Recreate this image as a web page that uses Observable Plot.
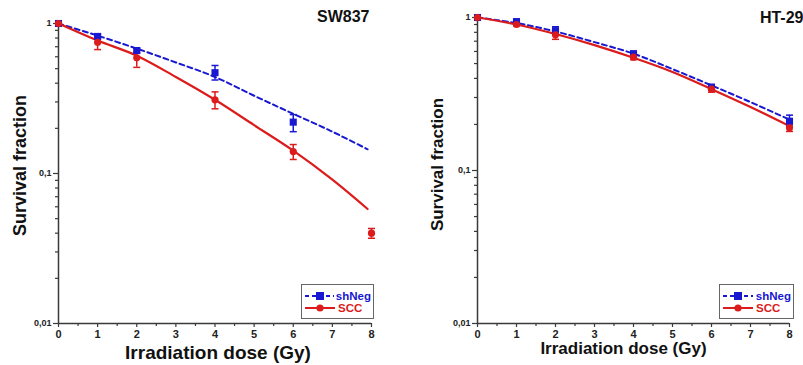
<!DOCTYPE html>
<html><head><meta charset="utf-8">
<script src="https://cdn.jsdelivr.net/npm/d3@7"></script>
<script src="https://cdn.jsdelivr.net/npm/@observablehq/plot@0.6"></script>
<style>
body{margin:0;background:#fff;font-family:"Liberation Sans",Arial,sans-serif;}
#wrap{position:relative;width:803px;height:365px;overflow:hidden;}
.panel{position:absolute;top:0;}
.legend{position:absolute;box-sizing:border-box;border:1.5px solid #666;background:#fff;font-weight:bold;font-size:11.5px;line-height:12px;padding:5px 2px 3px 2px;}
.legend div{display:flex;align-items:center;height:12px;}
.legend span{display:block;line-height:12px;}
.legend svg{margin-right:2px;}
</style></head><body>
<div id="wrap"></div>
<script>
// ---- data ----
const seriesNames = ["shNeg", "SCC"];
const colors = {shNeg: "#1818d0", SCC: "#dc1c1c"};
const yMajor = [1, 0.1, 0.01];
const yMinor = [0.02,0.03,0.04,0.05,0.06,0.07,0.08,0.09,0.2,0.3,0.4,0.5,0.6,0.7,0.8,0.9];
const xMajor = [0,1,2,3,4,5,6,7,8];
const xMinor = [0.5,1.5,2.5,3.5,4.5,5.5,6.5,7.5];

// SW837
const swShNegDose = [0,1,2,4,6];
const swShNegVal  = [1,0.82,0.66,0.47,0.22];
const swShNegLo   = [1,0.79,0.635,0.42,0.19];
const swShNegHi   = [1,0.85,0.685,0.525,0.247];
const swSccDose = [0,1,2,4,6,8];
const swSccVal  = [1,0.75,0.59,0.31,0.14,0.04];
const swSccLo   = [1,0.67,0.51,0.27,0.124,0.037];
const swSccHi   = [1,0.81,0.645,0.35,0.156,0.043];
const swFitDose = [0,1,2,3,4,5,6,7,7.9];
const swFitShNeg = [1,0.83,0.68,0.55,0.44,0.33,0.25,0.19,0.145];
const swFitScc   = [1,0.77,0.61,0.44,0.31,0.21,0.142,0.091,0.058];

// HT-29
const htDose = [0,1,2,4,6,8];
const htShNegVal = [1,0.94,0.82,0.58,0.35,0.21];
const htShNegLo  = [1,0.91,0.77,0.56,0.335,0.195];
const htShNegHi  = [1,0.97,0.87,0.60,0.365,0.23];
const htSccVal = [1,0.90,0.77,0.55,0.34,0.19];
const htSccLo  = [1,0.88,0.72,0.53,0.325,0.18];
const htSccHi  = [1,0.92,0.82,0.57,0.355,0.20];
const htFitDose = [0,1,2,3,4,5,6,7,8];
const htFitShNeg = [1,0.92,0.81,0.69,0.58,0.46,0.36,0.28,0.215];
const htFitScc   = [1,0.90,0.78,0.66,0.545,0.44,0.34,0.26,0.195];

const cap = {draw(ctx, size){ const r = Math.sqrt(size/Math.PI); ctx.moveTo(-r,0); ctx.lineTo(r,0);} };
const rows = (d, v, lo, hi) => d.map((x,i)=>({x, y:v[i], lo:lo[i], hi:hi[i]}));
const fitRows = (d, v) => d.map((x,i)=>({x, y:v[i]}));
const fmt = d => String(d).replace(".", ",");

function panel(o){
  const axisColor = "#3a3a3a";
  const sh = rows(o.shDose, o.shVal, o.shLo, o.shHi);
  const sc = rows(o.scDose, o.scVal, o.scLo, o.scHi);
  const err = (data, c) => [
    Plot.ruleX(data, {x:"x", y1:"lo", y2:"hi", stroke:c, strokeWidth:1.5}),
    Plot.dot(data, {x:"x", y:"lo", symbol:cap, r:3.5, stroke:c, strokeWidth:1.5}),
    Plot.dot(data, {x:"x", y:"hi", symbol:cap, r:3.5, stroke:c, strokeWidth:1.5})
  ];
  return Plot.plot({
    width:o.width, height:365,
    marginLeft:o.ml, marginRight:o.mr, marginTop:o.mt, marginBottom:42,
    style:{fontFamily:'"Liberation Sans", Arial, sans-serif', background:"white", overflow:"visible"},
    x:{domain:[0,8]},
    y:{type:"log", domain:[0.01,1]},
    marks:[
      Plot.ruleX([0], {stroke:axisColor, strokeWidth:1.5}),
      Plot.ruleY([0.01], {stroke:axisColor, strokeWidth:1.5}),
      Plot.axisY({ticks:yMajor, tickFormat:fmt, tickSize:5, tickPadding:2, stroke:axisColor, strokeWidth:1.2, fontSize:9, fontWeight:"bold", fill:"#222", label:null}),
      Plot.axisY({ticks:yMinor, tickFormat:()=>"", tickSize:3, stroke:axisColor, strokeWidth:1.2, label:null}),
      Plot.axisX({ticks:xMajor, tickFormat:d=>d, tickSize:4, tickPadding:3, stroke:axisColor, strokeWidth:1.2, fontSize:11, fontWeight:"bold", fill:"#222", label:null}),
      Plot.axisX({ticks:xMinor, tickFormat:()=>"", tickSize:3, stroke:axisColor, strokeWidth:1.2, label:null}),
      Plot.line(fitRows(o.fitDose, o.fitSh), {x:"x", y:"y", stroke:colors.shNeg, strokeWidth:2, strokeDasharray:"5,3.5", curve:"catmull-rom"}),
      Plot.line(fitRows(o.fitDose, o.fitSc), {x:"x", y:"y", stroke:colors.SCC, strokeWidth:2.2, curve:"catmull-rom"}),
      ...err(sh, colors.shNeg),
      ...err(sc, colors.SCC),
      Plot.dot(sh, {x:"x", y:"y", symbol:"square", r:4, fill:colors.shNeg, stroke:"none"}),
      Plot.dot(sc, {x:"x", y:"y", symbol:"circle", r:3.6, fill:colors.SCC, stroke:"none"}),
      Plot.text([o.title], {frameAnchor:"top-right", dx:o.titleDx, dy:o.titleDy, fontSize:16, fontWeight:"bold", fill:"#111", textAnchor:"end", lineAnchor:"middle"}),
      Plot.text(["Survival fraction"], {frameAnchor:"left", dx:o.ylDx, dy:o.ylDy, rotate:-90, textAnchor:"middle", lineAnchor:"middle", fontSize:o.ylSize, fontWeight:"bold", fill:"#111"}),
      Plot.text(["Irradiation dose (Gy)"], {frameAnchor:"bottom", dx:o.xlDx, dy:o.xlDy, textAnchor:"middle", lineAnchor:"middle", fontSize:o.xlSize, fontWeight:"bold", fill:"#111"})
    ]
  });
}

const wrap = document.getElementById("wrap");
function place(el, left){ const d=document.createElement("div"); d.className="panel"; d.style.left=left+"px"; d.appendChild(el); wrap.appendChild(d); }

place(panel({width:403, ml:58, mr:32, mt:23, title:"SW837", titleDx:-2, titleDy:-7,
  shDose:swShNegDose, shVal:swShNegVal, shLo:swShNegLo, shHi:swShNegHi,
  scDose:swSccDose, scVal:swSccVal, scLo:swSccLo, scHi:swSccHi,
  fitDose:swFitDose, fitSh:swFitShNeg, fitSc:swFitScc,
  ylDx:-38, ylDy:-8, ylSize:18, xlDx:3, xlDy:29, xlSize:19}), 0);

place(panel({width:400, ml:74, mr:14, mt:17, title:"HT-29", titleDx:14, titleDy:0,
  shDose:htDose, shVal:htShNegVal, shLo:htShNegLo, shHi:htShNegHi,
  scDose:htDose, scVal:htSccVal, scLo:htSccLo, scHi:htSccHi,
  fitDose:htFitDose, fitSh:htFitShNeg, fitSc:htFitScc,
  ylDx:-40, ylDy:-6, ylSize:17, xlDx:-10, xlDy:25, xlSize:17}), 403);

function legend(left, top, width, height){
  const L = document.createElement("div");
  L.className = "legend";
  L.style.left = left+"px"; L.style.top = top+"px"; L.style.width = width+"px"; L.style.height = height+"px";
  const sw = (name) => {
    const c = colors[name];
    const dash = name==="shNeg" ? 'stroke-dasharray="4,3"' : "";
    const m = name==="shNeg" ? `<rect x="12" y="2" width="8" height="8" fill="${c}"/>` : `<circle cx="16" cy="6" r="3.6" fill="${c}"/>`;
    return `<div><svg width="32" height="12"><line x1="1" y1="6" x2="31" y2="6" stroke="${c}" stroke-width="2" ${dash}/>${m}</svg><span style="color:${c}">${name}</span></div>`;
  };
  L.innerHTML = seriesNames.map(sw).join("");
  wrap.appendChild(L);
}
legend(301, 284, 73, 35);
legend(719, 284, 75, 35);
</script>
</body></html>
